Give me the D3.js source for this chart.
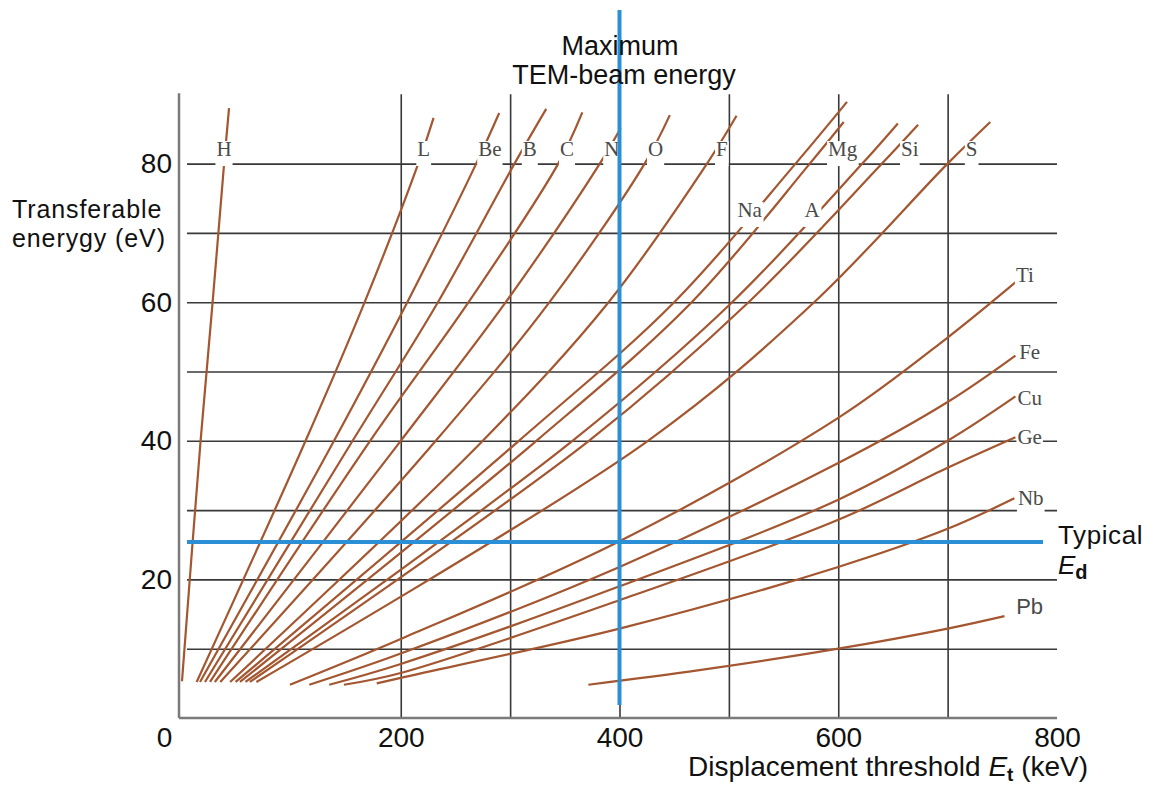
<!DOCTYPE html>
<html>
<head>
<meta charset="utf-8">
<script src="https://cdn.jsdelivr.net/npm/d3@7"></script>
<style>
  body { margin: 0; background: #fff; }
  svg { display: block; }
  text { font-family: "Liberation Sans", Arial, sans-serif; }
</style>
</head>
<body>
<div id="chart"></div>
<script>
// element curves: [keV, eV]
var elements = ["H", "L", "Be", "B", "C", "N", "O", "F", "Na", "Mg", "A", "Si", "S",
                "Ti", "Fe", "Cu", "Ge", "Nb", "Pb"];

var curves = [
  [[0, 5.3], [17, 40], [28, 60], [38.5, 80], [43, 88]],
  [[13.4, 5.2], [113, 40], [167, 60], [216, 80], [230, 86.6]],
  [[16.5, 5.2], [139, 40], [206, 60], [269, 80], [290, 87.3]],
  [[21, 5.2], [156, 40], [234, 60], [304, 80], [333, 87.9]],
  [[25.6, 5.2], [172, 40], [262, 60], [344, 80], [366, 87.4]],
  [[30, 5.2], [200, 40], [296, 60], [382, 80], [401, 85.1]],
  [[35, 5.2], [232, 40], [336, 60], [423, 80], [446, 87]],
  [[44, 5.2], [275, 40], [390, 60], [480, 80], [507, 86.9]],
  [[49, 5.2], [308, 40], [450, 60], [561, 80], [608, 88.9]],
  [[53, 5.2], [324, 40], [466, 60], [574, 80], [605, 86]],
  [[58, 5.2], [357, 40], [503, 60], [622, 80], [654.5, 85.8]],
  [[62, 5.2], [372, 40], [518, 60], [640, 80], [673, 85.6]],
  [[68, 5.2], [426, 40], [578, 60], [700, 80], [739, 86]],
  [[98.7, 4.8], [200, 11.4], [400, 25.5], [600, 43.3], [700, 54.9], [763, 63]],
  [[116.4, 4.8], [200, 9.3], [400, 21.8], [600, 36.8], [700, 45.6], [762, 52.3]],
  [[134.6, 4.8], [200, 7.8], [400, 19], [600, 31.5], [700, 40], [762, 46.4]],
  [[148, 4.8], [200, 6.5], [400, 17], [600, 28.6], [700, 36.1], [762, 40.5]],
  [[178, 5.0], [200, 5.8], [400, 12.9], [600, 21.8], [700, 27.3], [761, 31.7]],
  [[371.5, 4.8], [473, 6.9], [600, 10], [700, 12.9], [752, 14.7]]
];

// label anchor points [keV, eV]
var labelKeV = [38.4, 221, 281.5, 318, 352, 393, 433, 493.6, 519, 604, 576, 665.4, 722,
                770.6, 775, 775, 775, 776, 775];
var labelEV = [82.1, 82.1, 82.1, 82.1, 82.1, 82.1, 82.1, 82.1, 73.3, 82.1, 73.3, 82.1, 82.1,
               63.9, 52.8, 46.2, 40.5, 31.7, 16.2];

var xTicks = [0, 200, 400, 600, 800];
var yTicks = [20, 40, 60, 80];
var xGrid = [200, 300, 400, 500, 600, 700];
var yGrid = [10, 20, 30, 40, 50, 60, 70, 80];

var beamKeV = 400;     // maximum TEM-beam energy
var typicalEd = 25.4;  // typical displacement energy

var width = 1154, height = 785;
var brown = "#a3562f", blue = "#2b8fd6", grid = "#383838";

var x = d3.scaleLinear().domain([0, 800]).range([182, 1057]);
var y = d3.scaleLinear().domain([0, 90]).range([718, 94.3]);

var svg = d3.select("#chart").append("svg")
    .attr("width", width)
    .attr("height", height);

// grid
svg.append("g")
    .attr("transform", "translate(0," + y(0) + ")")
    .call(d3.axisBottom(x).tickValues(xGrid).tickSize(-(y(0) - y(90))).tickFormat(""))
    .call(function (g) {
      g.select(".domain").remove();
      g.selectAll("line").attr("stroke", grid).attr("stroke-width", 1.6);
    });

svg.append("g")
    .attr("transform", "translate(187,0)")
    .call(d3.axisLeft(y).tickValues(yGrid).tickSize(-(x(800) - 187)).tickFormat(""))
    .call(function (g) {
      g.select(".domain").remove();
      g.selectAll("line").attr("stroke", grid).attr("stroke-width", 1.6);
    });

// axis lines
svg.append("line")
    .attr("x1", x(0) - 3).attr("x2", x(0) - 3)
    .attr("y1", y(90) - 1).attr("y2", y(0))
    .attr("stroke", "#7a7a7a").attr("stroke-width", 2.5);
svg.append("line")
    .attr("x1", x(0) - 3).attr("x2", x(800))
    .attr("y1", y(0)).attr("y2", y(0))
    .attr("stroke", "#7a7a7a").attr("stroke-width", 2.5);

// tick labels
svg.append("g")
    .attr("transform", "translate(0," + y(0) + ")")
    .call(d3.axisBottom(x).tickValues(xTicks).tickSize(0).tickPadding(9))
    .call(function (g) {
      g.select(".domain").remove();
      g.selectAll("text").attr("font-size", 28).attr("fill", "#111")
        .style("font-family", "'Liberation Sans', Arial, sans-serif");
      g.selectAll(".tick").filter(function (d) { return d === 0; })
        .select("text").attr("x", -18);
    });

svg.append("g")
    .attr("transform", "translate(" + x(0) + ",0)")
    .call(d3.axisLeft(y).tickValues(yTicks).tickSize(0).tickPadding(10))
    .call(function (g) {
      g.select(".domain").remove();
      g.selectAll("text").attr("font-size", 28).attr("fill", "#111")
        .style("font-family", "'Liberation Sans', Arial, sans-serif");
    });

// curves
var line = d3.line()
    .x(function (d) { return x(d[0]); })
    .y(function (d) { return y(d[1]); })
    .curve(d3.curveCatmullRom.alpha(0.5));

svg.append("g").selectAll("path")
    .data(curves)
  .enter().append("path")
    .attr("d", line)
    .attr("fill", "none")
    .attr("stroke", brown)
    .attr("stroke-width", 2.2);

// element labels with white boxes that break the lines behind them
var labels = svg.append("g");
elements.forEach(function (name, i) {
  var sans = name === "Pb";
  var size = sans ? 22 : 21;
  var cx = x(labelKeV[i]), cy = y(labelEV[i]);
  var base = cy + (sans ? 8 : 7);
  var g = labels.append("g");
  var t = g.append("text")
      .attr("x", cx).attr("y", base)
      .attr("text-anchor", "middle")
      .attr("font-size", size)
      .attr("fill", "#4a4a4a")
      .style("font-family", sans ? "'Liberation Sans', Arial, sans-serif" : "'Liberation Serif', 'Times New Roman', serif")
      .text(name);
  var bb = t.node().getBBox();
  if (!sans) {
    g.insert("rect", "text")
        .attr("x", bb.x - 1).attr("width", bb.width + 2)
        .attr("y", base - 15).attr("height", 25)
        .attr("fill", "#fff");
  }
});

// blue reference lines
svg.append("line")
    .attr("x1", x(beamKeV)).attr("x2", x(beamKeV))
    .attr("y1", 10).attr("y2", 705)
    .attr("stroke", blue).attr("stroke-width", 4);
svg.append("line")
    .attr("x1", 187).attr("x2", 1043)
    .attr("y1", y(typicalEd)).attr("y2", y(typicalEd))
    .attr("stroke", blue).attr("stroke-width", 4);

// texts
svg.append("text").attr("x", 620).attr("y", 55).attr("text-anchor", "middle")
    .attr("font-size", 27).attr("fill", "#111").text("Maximum");
svg.append("text").attr("x", 624).attr("y", 84).attr("text-anchor", "middle")
    .attr("font-size", 27).attr("fill", "#111").text("TEM-beam energy");

svg.append("text").attr("x", 12).attr("y", 218)
    .attr("font-size", 25).attr("letter-spacing", 0.9).attr("fill", "#111").text("Transferable");
svg.append("text").attr("x", 12).attr("y", 247)
    .attr("font-size", 25).attr("letter-spacing", 0.9).attr("fill", "#111").text("enerygy (eV)");

var xt = svg.append("text").attr("x", 688).attr("y", 776)
    .attr("font-size", 28).attr("fill", "#111");
xt.append("tspan").text("Displacement threshold ");
xt.append("tspan").attr("font-style", "italic").text("E");
xt.append("tspan").attr("font-weight", "bold").attr("font-size", 19).attr("dy", 5).text("t");
xt.append("tspan").attr("dy", -5).text(" (keV)");

svg.append("text").attr("x", 1058).attr("y", 544)
    .attr("font-size", 26).attr("letter-spacing", 0.6).attr("fill", "#111").text("Typical");
var ed = svg.append("text").attr("x", 1058).attr("y", 574)
    .attr("font-size", 26).attr("fill", "#111");
ed.append("tspan").attr("font-style", "italic").text("E");
ed.append("tspan").attr("font-weight", "bold").attr("font-size", 20).attr("dy", 5).text("d");
</script>
</body>
</html>
